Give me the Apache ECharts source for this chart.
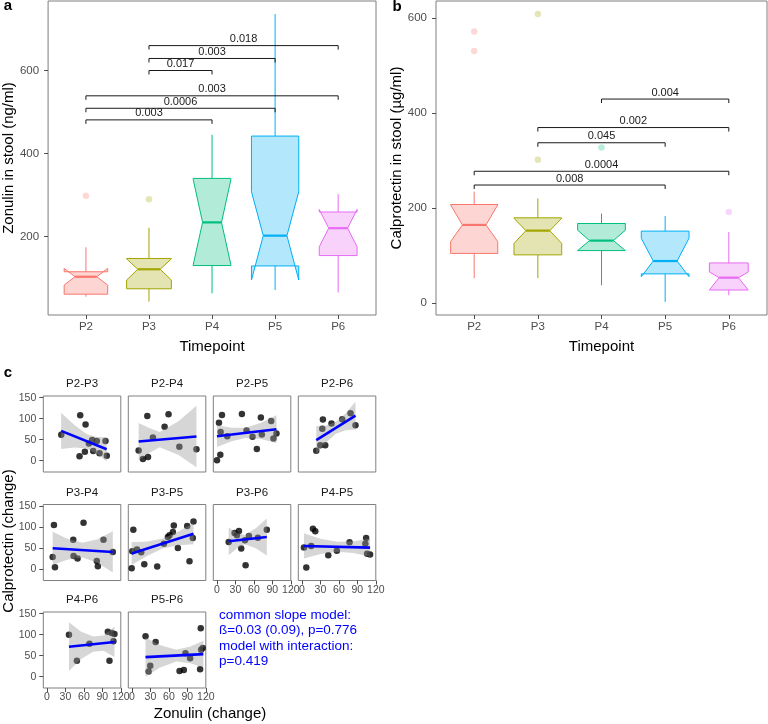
<!DOCTYPE html>
<html><head><meta charset="utf-8">
<script src="https://cdn.jsdelivr.net/npm/echarts@6/dist/echarts.min.js"></script>
<style>html,body{margin:0;padding:0;background:#fff}#chart{width:768px;height:724px}</style>
</head><body><div id="chart"></div>
<script>
// ---------- DATA ----------
const timepoints = ['P2','P3','P4','P5','P6'];

// Panel a: Zonulin in stool (ng/ml)
const zonWhiskerLow  = [55, 43, 63, 71, 65];
const zonQ1          = [61, 74, 130, 129, 154];
const zonNotchLow    = [83, 95, 131, 95, 175];
const zonMedian      = [103, 121, 234, 202, 220];
const zonNotchHigh   = [123, 146, 338, 308, 265];
const zonQ3          = [115, 147, 340, 442, 259];
const zonWhiskerHigh = [174, 221, 445, 736, 302];
const zonOutlierGroup = ['P2', 'P3'];
const zonOutlierValue = [298, 290];
const zonBracketFrom = ['P3','P3','P3','P2','P2','P2'];
const zonBracketTo   = ['P6','P5','P4','P6','P5','P4'];
const zonBracketY    = [660, 629, 600, 539, 509, 481];
const zonBracketP    = ['0.018','0.003','0.017','0.003','0.0006','0.003'];

// Panel b: Calprotectin in stool (µg/ml)
const calWhiskerLow  = [53, 53, 38, 3, 17];
const calQ1          = [105, 102, 111, 62, 28];
const calNotchLow    = [130, 126, 111, 56, 28];
const calMedian      = [165, 153, 132, 89, 54];
const calNotchHigh   = [207, 179, 154, 137, 66];
const calQ3          = [208, 180, 168, 152, 85];
const calWhiskerHigh = [235, 221, 189, 184, 150];
const calOutlierGroup = ['P2','P2','P3','P3','P4','P6'];
const calOutlierValue = [572, 531, 609, 302, 328, 192];
const calBracketFrom = ['P4','P3','P3','P2','P2'];
const calBracketTo   = ['P6','P6','P5','P6','P5'];
const calBracketY    = [430, 370, 338, 278, 249];
const calBracketP    = ['0.004','0.002','0.045','0.0004','0.008'];

// Panel c: change in zonulin (x) vs change in calprotectin (y)
const panelNames = ['P2-P3','P2-P4','P2-P5','P2-P6','P3-P4','P3-P5','P3-P6','P4-P5','P4-P6','P5-P6'];
const p23Zon = [23.2, 54, 62.7, 52.9, 61.6, 68.1, 73.5, 81, 75.1, 85.4, 95.1, 97.2];
const p23Cal = [61.6, 108, 86, 10.3, 21.3, 41, 49, 46.6, 23, 17.4, 46.6, 11.8];
const p24Zon = [10.8, 17.8, 26, 24.9, 34, 53, 59.4, 77, 104.8];
const p24Cal = [24.5, 4, 8.7, 106.6, 55, 81, 110.5, 33, 27];
const p25Zon = [3.2, 8.1, 5.9, 16.7, 0, 5.4, 40.5, 48.1, 57.8, 64.8, 71.3, 72.9, 88.1, 91.8, 96.7];
const p25Cal = [90, 109, 68, 58.4, 0.8, 14.2, 111, 71.8, 56.8, 27.6, 102.6, 62.4, 94.7, 52.9, 64.7];
const p26Zon = [23.2, 29.7, 37.8, 33, 34, 48, 65.4, 78.9, 87];
const p26Cal = [23.7, 37, 37, 75.8, 98, 88.4, 98.7, 113, 84.5];
const p34Zon = [9.2, 11.3, 13, 42.7, 43.2, 49.7, 59.4, 81, 82.7, 91.8, 107];
const p34Cal = [29, 105, 4.7, 70, 31.6, 25.3, 110.5, 19.7, 7.1, 70, 41];
const p35Zon = [-0.5, 2.2, 0.5, 8.1, 15, 20, 41, 51.9, 58.3, 61, 66.5, 68, 74.6, 89.7, 93.5, 98.9, 100];
const p35Cal = [2.4, 94, 42.6, 46.6, 40, 11.8, 6.3, 60.8, 76.6, 80.5, 88.4, 104, 50.5, 102.6, 19, 74.2, 113.7];
const p36Zon = [19, 28.6, 32.4, 35.7, 39.4, 45.4, 46.5, 51.9, 66.5, 81];
const p36Cal = [64.7, 86, 80.5, 90.8, 49, 68.7, 9.5, 79, 75, 94];
const p45Zon = [3.2, 7, 15, 17.8, 21.6, 42.7, 56.7, 77.3, 104.3, 103, 105.9, 110.7];
const p45Cal = [51.3, 4, 55, 96.3, 90, 33, 44, 64, 74.2, 60.8, 37, 34.7];
const p46Zon = [35.7, 48.6, 69, 98.9, 101.6, 105.3, 108, 109.7];
const p46Cal = [100, 37.7, 78.6, 106.7, 37.7, 104.2, 84.2, 101.8];
const p56Zon = [22, 27, 29.7, 38.4, 77.3, 84.3, 87, 94.5, 110.7, 111.8, 112.4, 115];
const p56Cal = [96, 12, 25.7, 82.6, 13.6, 16, 56, 44, 17.6, 115.5, 64, 68];
const zonChange = [p23Zon, p24Zon, p25Zon, p26Zon, p34Zon, p35Zon, p36Zon, p45Zon, p46Zon, p56Zon];
const calChange = [p23Cal, p24Cal, p25Cal, p26Cal, p34Cal, p35Cal, p36Cal, p45Cal, p46Cal, p56Cal];

// linear fit lines
const fitX1 = [23, 10.8, 0, 23.2, 9.2, -0.5, 19, 3.2, 35.7, 22];
const fitY1 = [71, 45.8, 58.1, 49, 49.7, 37.1, 66.3, 55.3, 71.4, 46.5];
const fitX2 = [97, 104.8, 96.7, 87, 107, 100, 81, 110.7, 109.7, 116];
const fitY2 = [27, 57.6, 75, 107.4, 41, 84.5, 76.6, 51.3, 82.6, 53.7];
// confidence bands
const bandX = [
  [23, 44, 65, 81, 97], [10.8, 28, 45, 75, 104.8], [0, 24, 46, 71, 96.7], [23.2, 39, 55, 71, 87],
  [9.2, 33, 58, 82, 107], [-0.5, 25, 50, 75, 100], [19, 32, 45, 63, 81], [3.2, 30, 57, 84, 110.7],
  [35.7, 55, 75, 92, 109.7], [22, 45, 72, 95, 116]];
const bandHi = [
  [114, 85.5, 63, 56.5, 56], [89.8, 77.5, 68.1, 93.5, 130.6], [84.4, 78.3, 78.2, 89.6, 108], [82, 83.5, 92.1, 112.7, 140.4],
  [89.2, 72.6, 62.9, 71.2, 90], [64.1, 66.1, 73, 89, 109.5], [99.3, 87.5, 81.6, 97.6, 120.6], [85.3, 72.3, 65.3, 66.3, 73.3],
  [129.4, 107.3, 95.4, 97.9, 118.6], [93.5, 75.3, 64.3, 72.1, 85.7]];
const bandLo = [
  [28, 31.5, 29, 16.5, -2], [1.8, 18.3, 32.1, 14.1, -15.4], [32.4, 46.3, 54.2, 51.6, 42], [16, 43.5, 64.1, 72.7, 74.4],
  [10.2, 22.6, 27.9, 15.2, -8], [10.1, 32.1, 49, 57, 59.5], [33.3, 49.5, 59.6, 49.6, 32.6], [25.3, 36.3, 41.3, 38.3, 29.3],
  [13.4, 41.3, 59.4, 61.9, 46.6], [-0.5, 21.3, 36.3, 32.1, 21.7]];

const yTicksA = [200, 400, 600];
const yTicksB = [0, 200, 400, 600];
const cTicksX = [0, 30, 60, 90, 120];
const cTicksY = [0, 50, 100, 150];
const modelText = ['common slope model:', 'ß=0.03 (0.09), p=0.776', 'model with interaction:', 'p=0.419'];

// ---------- STYLE / LAYOUT ----------
const FONT = "'Liberation Sans', Arial, Helvetica, sans-serif";
const groupColors = ['#F8766D', '#A3A500', '#00BF7D', '#00B0F6', '#E76BF3'];
const boxWidthA = [0.69, 0.71, 0.60, 0.75, 0.60];
const boxWidthB = [0.74, 0.75, 0.75, 0.75, 0.61];
const BORDER = '#7f7f7f';
const TICKCOL = '#4d4d4d';
const INK = '#1a1a1a';
function rgba(hex, a) { const n = parseInt(hex.slice(1), 16); return 'rgba(' + (n >> 16) + ',' + ((n >> 8) & 255) + ',' + (n & 255) + ',' + a + ')'; }
const catIdx = t => timepoints.indexOf(t) + 1;

function boxRender(widths) {
  return function (params, api) {
    const i = params.dataIndex;
    const x = api.value(0), w = widths[i], c = groupColors[i];
    const wlo = api.value(1), q1 = api.value(2), nl = api.value(3), med = api.value(4),
          nu = api.value(5), q3 = api.value(6), whi = api.value(7);
    const P = (xx, yy) => api.coord([xx, yy]);
    const xl = x - w / 2, xr = x + w / 2, xnl = x - w / 4, xnr = x + w / 4;
    const poly = [P(xl, q3), P(xl, nu), P(xnl, med), P(xl, nl), P(xl, q1), P(xr, q1), P(xr, nl), P(xnr, med), P(xr, nu), P(xr, q3)];
    const a1 = P(x, q3), a2 = P(x, whi), b1 = P(x, q1), b2 = P(x, wlo), m1 = P(xnl, med), m2 = P(xnr, med);
    return { type: 'group', children: [
      { type: 'line', shape: { x1: a1[0], y1: a1[1], x2: a2[0], y2: a2[1] }, style: { stroke: c, lineWidth: 1 } },
      { type: 'line', shape: { x1: b1[0], y1: b1[1], x2: b2[0], y2: b2[1] }, style: { stroke: c, lineWidth: 1 } },
      { type: 'polygon', shape: { points: poly }, style: { fill: rgba(c, 0.3), stroke: c, lineWidth: 1 } },
      { type: 'line', shape: { x1: m1[0], y1: m1[1], x2: m2[0], y2: m2[1] }, style: { stroke: c, lineWidth: 2.2 } }
    ]};
  };
}
function bracketRender(labels) {
  return function (params, api) {
    const i = params.dataIndex;
    const y = api.value(2);
    const a = api.coord([api.value(0), y]), b = api.coord([api.value(1), y]);
    const t = 4;
    return { type: 'group', children: [
      { type: 'line', shape: { x1: a[0], y1: a[1] + t, x2: a[0], y2: a[1] }, style: { stroke: INK, lineWidth: 1 } },
      { type: 'line', shape: { x1: a[0], y1: a[1], x2: b[0], y2: b[1] }, style: { stroke: INK, lineWidth: 1 } },
      { type: 'line', shape: { x1: b[0], y1: b[1], x2: b[0], y2: b[1] + t }, style: { stroke: INK, lineWidth: 1 } },
      { type: 'text', style: { text: labels[i], x: (a[0] + b[0]) / 2, y: a[1] - 1, align: 'center', verticalAlign: 'bottom',
        fontSize: 11, fontFamily: FONT, fill: INK } }
    ]};
  };
}

const grids = [
  { left: 45, top: 1, width: 331, height: 314 },
  { left: 436, top: 1, width: 331, height: 314 }
];
const cLeft = [43.3, 128.3, 213.3, 298.3], cTop = [396, 504.5, 612], cW = 77.5, cH = 76;
panelNames.forEach((n, i) => {
  grids.push({ left: cLeft[i % 4], top: cTop[Math.floor(i / 4)], width: cW, height: cH });
});
grids.forEach(g => Object.assign(g, { show: true, borderColor: BORDER, borderWidth: 1, backgroundColor: '#fff' }));

const xAxes = [], yAxes = [], series = [];
function boxAxes(gi, yname, ymin, ymax, yticks) {
  xAxes.push({ gridIndex: gi, type: 'value', min: 0.4, max: 5.6,
    axisLine: { show: false, onZero: false }, splitLine: { show: false },
    axisTick: { show: true, length: 4, lineStyle: { color: TICKCOL }, customValues: [1, 2, 3, 4, 5] },
    axisLabel: { customValues: [1, 2, 3, 4, 5], formatter: v => timepoints[Math.round(v) - 1], fontSize: 11.5, color: TICKCOL, margin: 6, fontFamily: FONT },
    name: 'Timepoint', nameLocation: 'middle', nameGap: 24, nameTextStyle: { fontSize: 15, color: '#000', fontFamily: FONT } });
  yAxes.push({ gridIndex: gi, type: 'value', min: ymin, max: ymax,
    axisLine: { show: false, onZero: false }, splitLine: { show: false },
    axisTick: { show: true, length: 4, lineStyle: { color: TICKCOL }, customValues: yticks },
    axisLabel: { customValues: yticks, fontSize: 11.5, color: TICKCOL, margin: 9, fontFamily: FONT },
    name: yname, nameLocation: 'middle', nameGap: 29, nameTextStyle: { fontSize: 15, color: '#000', fontFamily: FONT } });
}
boxAxes(0, 'Zonulin in stool (ng/ml)', 10.8, 767.5, yTicksA);
boxAxes(1, 'Calprotectin in stool (µg/ml)', -24.6, 636.4, yTicksB);

function boxSeries(ai, lo, q1, nl, med, nu, q3, hi, widths, og, ov, bf, bt, by, bp) {
  series.push({ type: 'custom', xAxisIndex: ai, yAxisIndex: ai, renderItem: boxRender(widths),
    data: timepoints.map((t, i) => [i + 1, lo[i], q1[i], nl[i], med[i], nu[i], q3[i], hi[i]]), z: 2 });
  series.push({ type: 'scatter', xAxisIndex: ai, yAxisIndex: ai, symbolSize: 6.5, z: 3,
    data: og.map((g, i) => ({ value: [catIdx(g), ov[i]], itemStyle: { color: rgba(groupColors[catIdx(g) - 1], 0.35) } })) });
  series.push({ type: 'custom', xAxisIndex: ai, yAxisIndex: ai, renderItem: bracketRender(bp), z: 4,
    itemStyle: { color: INK }, data: bf.map((f, i) => [catIdx(f), catIdx(bt[i]), by[i]]) });
}
boxSeries(0, zonWhiskerLow, zonQ1, zonNotchLow, zonMedian, zonNotchHigh, zonQ3, zonWhiskerHigh, boxWidthA,
  zonOutlierGroup, zonOutlierValue, zonBracketFrom, zonBracketTo, zonBracketY, zonBracketP);
boxSeries(1, calWhiskerLow, calQ1, calNotchLow, calMedian, calNotchHigh, calQ3, calWhiskerHigh, boxWidthB,
  calOutlierGroup, calOutlierValue, calBracketFrom, calBracketTo, calBracketY, calBracketP);

panelNames.forEach((n, i) => {
  const gi = i + 2;
  const showY = (i % 4) === 0;
  const showX = i >= 6;
  xAxes.push({ gridIndex: gi, type: 'value', min: -6, max: 120,
    axisLine: { show: false, onZero: false }, splitLine: { show: false },
    axisTick: { show: showX, length: 4, lineStyle: { color: TICKCOL }, customValues: cTicksX },
    axisLabel: { show: showX, customValues: cTicksX, fontSize: 10.5, color: TICKCOL, margin: 4, fontFamily: FONT, showMaxLabel: true, showMinLabel: true } });
  yAxes.push({ gridIndex: gi, type: 'value', min: -27, max: 154,
    axisLine: { show: false, onZero: false }, splitLine: { show: false },
    axisTick: { show: showY, length: 4, lineStyle: { color: TICKCOL }, customValues: cTicksY },
    axisLabel: { show: showY, customValues: cTicksY, fontSize: 10.5, color: TICKCOL, margin: 7, fontFamily: FONT } });
  series.push({ type: 'scatter', xAxisIndex: gi, yAxisIndex: gi, symbolSize: 6.5, z: 2,
    itemStyle: { color: '#000' }, data: zonChange[i].map((x, k) => [x, calChange[i][k]]) });
  series.push({ type: 'custom', xAxisIndex: gi, yAxisIndex: gi, z: 3,
    data: bandX[i].map((x, k) => [x, bandLo[i][k], bandHi[i][k]]),
    renderItem: function (params, api) {
      if (params.dataIndex !== 0) return null;
      const up = bandX[i].map((x, k) => api.coord([x, bandHi[i][k]]));
      const dn = bandX[i].map((x, k) => api.coord([x, bandLo[i][k]])).reverse();
      return { type: 'polygon', shape: { points: up.concat(dn) }, style: { fill: 'rgba(153,153,153,0.4)', stroke: null } };
    } });
  series.push({ type: 'line', xAxisIndex: gi, yAxisIndex: gi, z: 4, symbol: 'none',
    lineStyle: { color: '#0000ff', width: 2.6 }, data: [[fitX1[i], fitY1[i]], [fitX2[i], fitY2[i]]] });
});

const graphics = [
  { type: 'text', x: 8, y: 6, style: { text: 'a', align: 'center', verticalAlign: 'middle', fontSize: 15, fontWeight: 'bold', fontFamily: FONT, fill: '#000' } },
  { type: 'text', x: 397, y: 7, style: { text: 'b', align: 'center', verticalAlign: 'middle', fontSize: 15, fontWeight: 'bold', fontFamily: FONT, fill: '#000' } },
  { type: 'text', x: 8, y: 373, style: { text: 'c', align: 'center', verticalAlign: 'middle', fontSize: 15, fontWeight: 'bold', fontFamily: FONT, fill: '#000' } },
  { type: 'text', x: 210, y: 714, style: { text: 'Zonulin (change)', align: 'center', verticalAlign: 'middle', fontSize: 15, fontFamily: FONT, fill: '#000' } },
  { type: 'text', x: 9, y: 541, rotation: Math.PI / 2, style: { text: 'Calprotectin (change)', align: 'center', verticalAlign: 'middle', fontSize: 15, fontFamily: FONT, fill: '#000' } }
];
panelNames.forEach((n, i) => {
  graphics.push({ type: 'text', x: cLeft[i % 4] + cW / 2, y: cTop[Math.floor(i / 4)] - 12,
    style: { text: n, align: 'center', verticalAlign: 'middle', fontSize: 11.5, fontFamily: FONT, fill: INK } });
});
const blueY = [615, 630.5, 646, 661.5];
modelText.forEach((t, k) => {
  graphics.push({ type: 'text', x: 219, y: blueY[k], style: { text: t, align: 'left', verticalAlign: 'middle', fontSize: 13.5, fontFamily: FONT, fill: '#0000ff' } });
});

const chart = echarts.init(document.getElementById('chart'), null, { renderer: 'canvas' });
chart.setOption({
  animation: false,
  backgroundColor: '#fff',
  textStyle: { fontFamily: FONT },
  grid: grids, xAxis: xAxes, yAxis: yAxes, series: series, graphic: graphics
});
</script></body></html>
